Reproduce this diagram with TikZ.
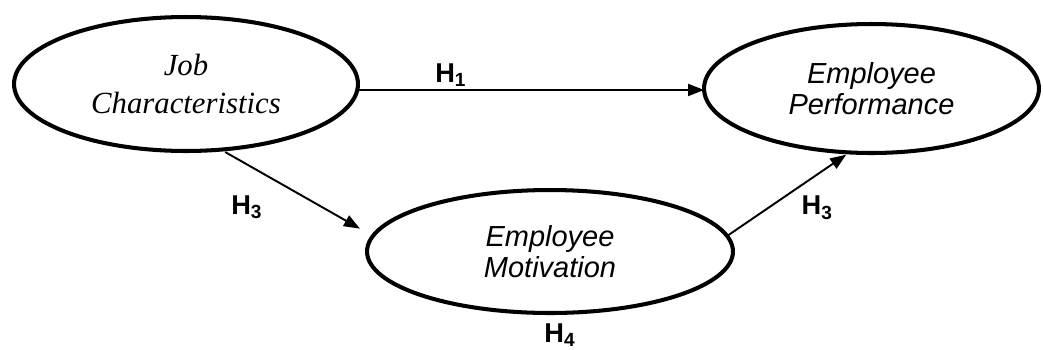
\documentclass[tikz,border=0pt]{standalone}
\usepackage{fontspec}
\setmainfont{Liberation Serif}
\setsansfont{Liberation Sans}
\usetikzlibrary{arrows.meta, positioning, shapes.geometric}
\tikzset{
  construct/.style={draw, ellipse, line width=2.3pt, outer sep=0pt, inner sep=0pt, align=center},
  serifname/.style={font=\itshape\fontsize{17.5}{21.6}\selectfont},
  sansname/.style={font=\sffamily\itshape\fontsize{16.5}{17.5}\selectfont},
  hyp/.style={font=\sffamily\bfseries\fontsize{15.5}{17}\selectfont, inner sep=0pt},
  link/.style={->, line width=1.1pt},
  >={Triangle[length=0.32cm, width=0.24cm]}
}

\begin{document}
\begin{tikzpicture}[x=0.02cm, y=-0.02cm]
\useasboundingbox (0,0) rectangle (1043,349);
\node[construct, serifname, minimum width=6.88cm, minimum height=2.68cm] (jc) at (186,84) {Job\\Characteristics};
\node[construct, sansname, minimum width=6.7cm, minimum height=2.58cm] (ep) at (871.5,88.5) {Employee\\Performance};
\node[construct, sansname, minimum width=7.32cm, minimum height=2.46cm] (em) at (550,251.5) {Employee\\Motivation};
\node[hyp, below=0.2cm of em, xshift=0.2cm] (h4) {H\textsubscript{4}};

\draw (jc.-2) edge[link] node[hyp, pos=0.27, yshift=0.3cm] {H\textsubscript{1}} (jc.-2 -| ep.west);
\draw (jc.-62) edge[link, shorten <=0.1cm, shorten >=0.3cm] node[hyp, pos=0.25, xshift=-0.24cm, yshift=-0.72cm] {H\textsubscript{3}} (em.175);
\draw (em.5) edge[link, shorten >=0.08cm] node[hyp, pos=0.5, xshift=0.58cm, yshift=-0.27cm] {H\textsubscript{3}} (ep.-109);
\end{tikzpicture}
\end{document}
